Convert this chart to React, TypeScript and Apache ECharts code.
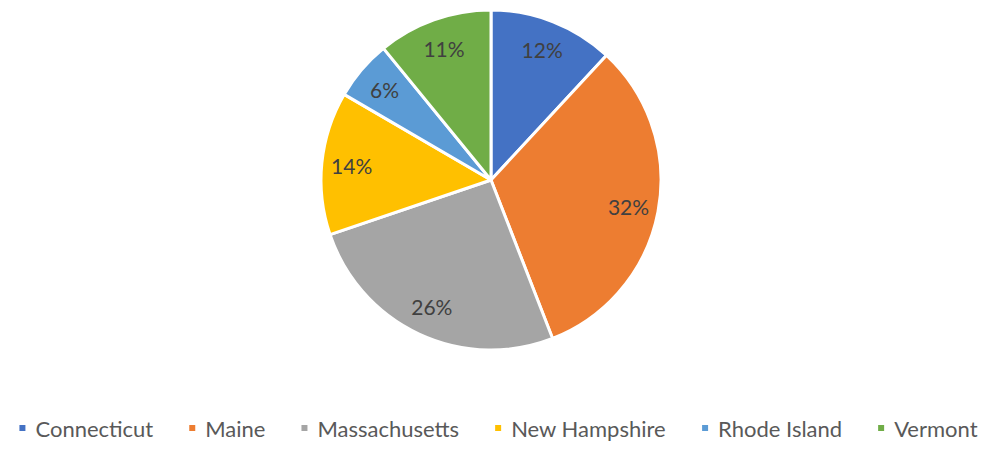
import React, { useEffect, useRef } from "react";
import * as echarts from "echarts";

const categories = ["Connecticut", "Maine", "Massachusetts", "New Hampshire", "Rhode Island", "Vermont"];
const values = [11.9, 32.2, 25.7, 13.6, 5.7, 10.9];
const colors = ["#4472C4", "#ED7D31", "#A5A5A5", "#FFC000", "#5B9BD5", "#70AD47"];

export default function App() {
  const ref = useRef<HTMLDivElement>(null);
  useEffect(() => {
    if (!ref.current) return;
    const chart = echarts.init(ref.current, undefined, { renderer: "svg" });
    const data = categories.map((name, i) => ({ name, value: values[i], itemStyle: { color: colors[i] } }));
    const total = values.reduce((a, b) => a + b, 0);
    chart.setOption({
      animation: false,
      textStyle: { fontFamily: "Lato" },
      legend: {
        top: 409,
        left: "center",
        width: 979,
        padding: 0,
        itemWidth: 8,
        itemHeight: 8,
        itemGap: 34,
        icon: "rect",
        textStyle: { fontFamily: "Lato", fontSize: 22, color: "#595959", padding: [0, 0, 0, 4] },
        data: categories,
      },
      series: [
        {
          type: "pie",
          center: [483, 172],
          radius: [0, 170],
          startAngle: 90,
          clockwise: true,
          silent: true,
          label: { show: false },
          labelLine: { show: false },
          itemStyle: { borderColor: "#ffffff", borderWidth: 3 },
          data,
        },
        {
          type: "pie",
          center: [483, 172],
          radius: [104, 170],
          startAngle: 90,
          clockwise: true,
          silent: true,
          legendHoverLink: false,
          itemStyle: { color: "transparent" },
          label: {
            show: true,
            position: "inside",
            fontFamily: "Lato",
            fontSize: 21,
            color: "#404040",
            formatter: (p: any) => Math.round((p.value / total) * 100) + "%",
          },
          labelLine: { show: false },
          data: categories.map((name, i) => ({ name: name + " ", value: values[i] })),
          tooltip: { show: false },
        },
      ],
    });
    return () => chart.dispose();
  }, []);
  return <div ref={ref} style={{ width: 979, height: 442 }} />;
}
